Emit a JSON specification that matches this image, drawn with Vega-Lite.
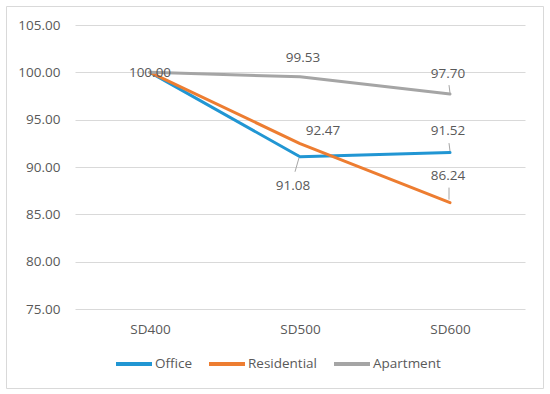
{
  "$schema": "https://vega.github.io/schema/vega-lite/v6.json",
  "width": 537,
  "height": 382,
  "autosize": {"type": "none"},
  "padding": {"left": 6, "top": 6, "right": 7, "bottom": 6},
  "background": "white",
  "config": {"view": {"stroke": "#d9d9d9", "strokeWidth": 1}, "font": "Open Sans"},
  "data": {"values": [
    {"cat": "SD400", "series": "Office", "value": 100.00},
    {"cat": "SD500", "series": "Office", "value": 91.08},
    {"cat": "SD600", "series": "Office", "value": 91.52},
    {"cat": "SD400", "series": "Residential", "value": 100.00},
    {"cat": "SD500", "series": "Residential", "value": 92.47},
    {"cat": "SD600", "series": "Residential", "value": 86.24},
    {"cat": "SD400", "series": "Apartment", "value": 100.00},
    {"cat": "SD500", "series": "Apartment", "value": 99.53},
    {"cat": "SD600", "series": "Apartment", "value": 97.70}
  ]},
  "encoding": {
    "x": {
      "field": "cat", "type": "ordinal", "sort": ["SD400", "SD500", "SD600"],
      "scale": {"type": "point", "range": [69, 519], "padding": 0.5},
      "axis": {"title": null, "domain": false, "ticks": false, "tickSize": 0, "labelPadding": 0, "offset": -66, "labelAngle": 0, "grid": false,
               "labelFont": "Open Sans", "labelFontSize": 13.5, "labelColor": "#595959"}
    },
    "y": {
      "field": "value", "type": "quantitative",
      "scale": {"domain": [75, 105], "range": [303, 19], "nice": false, "zero": false},
      "axis": {"title": null, "values": [75, 80, 85, 90, 95, 100, 105], "format": ".2f", "grid": true, "gridColor": "#d9d9d9", "gridWidth": 1,
               "domain": false, "ticks": false, "tickSize": 0, "labelPadding": 0, "offset": -54,
               "labelFont": "Open Sans", "labelFontSize": 13.5, "labelColor": "#595959"}
    }
  },
  "layer": [
    {
      "mark": {"type": "line", "strokeWidth": 3, "strokeCap": "round", "strokeJoin": "round"},
      "encoding": {
        "color": {
          "field": "series", "type": "nominal",
          "scale": {"domain": ["Office", "Residential", "Apartment"], "range": ["#2196D3", "#ED7D31", "#A5A5A5"]},
          "legend": {"orient": "none", "legendX": 108, "legendY": 338, "direction": "horizontal", "title": null, "gridAlign": "none",
                     "symbolType": "stroke", "symbolSize": 1296, "symbolStrokeWidth": 4, "labelOffset": 1, "columnPadding": 8,
                     "labelFont": "Open Sans", "labelFontSize": 13.5, "labelColor": "#595959"}
        }
      }
    },
    {
      "transform": [{"filter": "datum.series === 'Apartment' && datum.cat === 'SD600'"}],
      "mark": {"type": "rule", "color": "#a6a6a6", "strokeWidth": 1, "xOffset": -1, "yOffset": -9, "x2Offset": 0, "y2Offset": -1},
      "encoding": {"x2": {"field": "cat"}, "y2": {"field": "value"}}
    },
    {
      "transform": [{"filter": "datum.series === 'Office' && datum.cat === 'SD600'"}],
      "mark": {"type": "rule", "color": "#a6a6a6", "strokeWidth": 1, "xOffset": -1, "yOffset": -9.5, "x2Offset": 0, "y2Offset": -1.5},
      "encoding": {"x2": {"field": "cat"}, "y2": {"field": "value"}}
    },
    {
      "transform": [{"filter": "datum.series === 'Residential' && datum.cat === 'SD600'"}],
      "mark": {"type": "rule", "color": "#a6a6a6", "strokeWidth": 1, "xOffset": -1, "yOffset": -15, "x2Offset": -1, "y2Offset": -3},
      "encoding": {"x2": {"field": "cat"}, "y2": {"field": "value"}}
    },
    {
      "transform": [{"filter": "datum.series === 'Office' && datum.cat === 'SD500'"}],
      "mark": {"type": "rule", "color": "#a6a6a6", "strokeWidth": 1, "xOffset": -1, "yOffset": 1, "x2Offset": -5, "y2Offset": 15},
      "encoding": {"x2": {"field": "cat"}, "y2": {"field": "value"}}
    },
    {
      "transform": [{"filter": "datum.series === 'Apartment' && datum.cat === 'SD400'"}],
      "mark": {"type": "text", "dx": 0, "dy": 1, "font": "Open Sans", "fontSize": 13.5, "fill": "#595959", "baseline": "middle", "align": "center"},
      "encoding": {"text": {"field": "value", "type": "quantitative", "format": ".2f"}}
    },
    {
      "transform": [{"filter": "datum.series === 'Apartment' && datum.cat === 'SD500'"}],
      "mark": {"type": "text", "dx": 3, "dy": -19, "font": "Open Sans", "fontSize": 13.5, "fill": "#595959", "baseline": "middle", "align": "center"},
      "encoding": {"text": {"field": "value", "type": "quantitative", "format": ".2f"}}
    },
    {
      "transform": [{"filter": "datum.series === 'Apartment' && datum.cat === 'SD600'"}],
      "mark": {"type": "text", "dx": -2, "dy": -20, "font": "Open Sans", "fontSize": 13.5, "fill": "#595959", "baseline": "middle", "align": "center"},
      "encoding": {"text": {"field": "value", "type": "quantitative", "format": ".2f"}}
    },
    {
      "transform": [{"filter": "datum.series === 'Residential' && datum.cat === 'SD500'"}],
      "mark": {"type": "text", "dx": 23, "dy": -13, "font": "Open Sans", "fontSize": 13.5, "fill": "#595959", "baseline": "middle", "align": "center"},
      "encoding": {"text": {"field": "value", "type": "quantitative", "format": ".2f"}}
    },
    {
      "transform": [{"filter": "datum.series === 'Office' && datum.cat === 'SD600'"}],
      "mark": {"type": "text", "dx": -2, "dy": -22, "font": "Open Sans", "fontSize": 13.5, "fill": "#595959", "baseline": "middle", "align": "center"},
      "encoding": {"text": {"field": "value", "type": "quantitative", "format": ".2f"}}
    },
    {
      "transform": [{"filter": "datum.series === 'Office' && datum.cat === 'SD500'"}],
      "mark": {"type": "text", "dx": -7, "dy": 29, "font": "Open Sans", "fontSize": 13.5, "fill": "#595959", "baseline": "middle", "align": "center"},
      "encoding": {"text": {"field": "value", "type": "quantitative", "format": ".2f"}}
    },
    {
      "transform": [{"filter": "datum.series === 'Residential' && datum.cat === 'SD600'"}],
      "mark": {"type": "text", "dx": -2, "dy": -27, "font": "Open Sans", "fontSize": 13.5, "fill": "#595959", "baseline": "middle", "align": "center"},
      "encoding": {"text": {"field": "value", "type": "quantitative", "format": ".2f"}}
    }
  ]
}
